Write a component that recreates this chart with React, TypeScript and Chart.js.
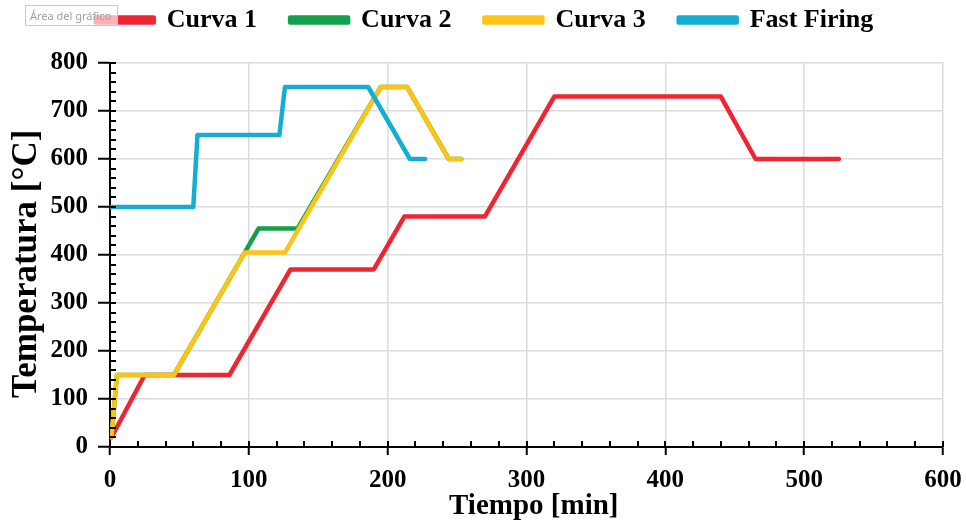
import React, { useEffect, useRef } from 'react';
import { Chart, registerables } from 'chart.js';
Chart.register(...registerables);

const seriesNames = ['Curva 1', 'Curva 2', 'Curva 3', 'Fast Firing'];
const seriesColors = ['#ee2633', '#12a04b', '#fcc414', '#14aed2'];
const curva1Time = [1, 25, 86, 130, 190, 212, 270, 320, 440, 465, 525];
const curva1Temp = [20, 150, 150, 370, 370, 480, 480, 730, 730, 600, 600];
const curva2Time = [1, 5, 46, 97, 107, 135, 195, 214, 244, 253];
const curva2Temp = [20, 150, 150, 405, 455, 455, 750, 750, 600, 600];
const curva3Time = [1, 5, 46, 97, 126, 195, 214, 244, 253];
const curva3Temp = [20, 150, 150, 405, 405, 750, 750, 600, 600];
const fastTime = [0, 60, 63, 122, 126, 186, 216, 227];
const fastTemp = [500, 500, 650, 650, 750, 750, 600, 600];
const xMin = 0, xMax = 600, xStep = 100, xMinorStep = 20;
const yMin = 0, yMax = 800, yStep = 100, yMinorStep = 20;
const xTitle = '  Tiempo [min]';
const yTitle = 'Temperatura [°C]  ';
const overlayText = 'Área del gráfico';

const FONT = "'Liberation Serif', 'Times New Roman', serif";

const toPoints = (xs: number[], ys: number[]) => xs.map((x, i) => ({ x, y: ys[i] }));

const minorTicksPlugin = {
  id: 'minorTicks',
  afterDraw(chart: any) {
    const { ctx, chartArea, scales } = chart;
    const xs = scales.x;
    const ys = scales.y;
    ctx.save();
    ctx.strokeStyle = '#000';
    ctx.lineWidth = 2;
    ctx.beginPath();
    for (let v = xMin; v <= xMax; v += xMinorStep) {
      const px = Math.round(xs.getPixelForValue(v));
      ctx.moveTo(px, chartArea.bottom);
      ctx.lineTo(px, chartArea.bottom - 6);
    }
    for (let v = yMin; v <= yMax; v += yMinorStep) {
      const py = Math.round(ys.getPixelForValue(v));
      ctx.moveTo(chartArea.left, py);
      ctx.lineTo(chartArea.left + 6, py);
    }
    ctx.stroke();
    ctx.restore();
  },
};

export default function App() {
  const ref = useRef<HTMLCanvasElement | null>(null);
  useEffect(() => {
    document.body.style.margin = '0';
    const canvas = ref.current;
    if (!canvas) return;
    const allX = [curva1Time, curva2Time, curva3Time, fastTime];
    const allY = [curva1Temp, curva2Temp, curva3Temp, fastTemp];
    const chart = new Chart(canvas, {
      type: 'line',
      data: {
        datasets: seriesNames.map((name, i) => ({
          label: name,
          data: toPoints(allX[i], allY[i]),
          borderColor: seriesColors[i],
          backgroundColor: seriesColors[i],
          borderWidth: 4.5,
          pointRadius: 0,
          tension: 0,
          fill: false,
          order: seriesNames.length - i,
          borderCapStyle: 'round' as const,
          borderJoinStyle: 'round' as const,
        })),
      },
      options: {
        animation: false,
        responsive: false,
        events: [],
        layout: { padding: { top: -26, right: 0, bottom: 0, left: 3 } },
        plugins: {
          tooltip: { enabled: false },
          title: { display: false },
          subtitle: {
            display: true,
            text: ' ',
            position: 'top',
            weight: 500,
            font: { size: 2, lineHeight: 1 },
            padding: { top: 9, bottom: 9 },
          },
          legend: {
            display: true,
            position: 'top',
            labels: {
              sort: (a: any, b: any) => a.datasetIndex - b.datasetIndex,
              boxWidth: 58,
              boxHeight: 5,
              padding: 33,
              color: '#000',
              font: { family: FONT, size: 26, weight: 'bold' },
            },
          },
        },
        scales: {
          x: {
            type: 'linear',
            min: xMin,
            max: xMax,
            afterFit: (s: any) => {
              s.height = 75;
              s.paddingRight = 23;
            },
            ticks: {
              stepSize: xStep,
              color: '#000',
              padding: 11,
              font: { family: FONT, size: 25, weight: 'bold' },
            },
            grid: {
              color: '#dcdcdc',
              lineWidth: 1.5,
              tickColor: '#000',
              tickLength: 8,
              tickWidth: 2,
            },
            border: { color: '#000', width: 2 },
            title: {
              display: true,
              text: xTitle,
              color: '#000',
              padding: { top: 0, bottom: 0 },
              font: { family: FONT, size: 29, weight: 'bold', lineHeight: 1.1 },
            },
          },
          y: {
            type: 'linear',
            min: yMin,
            max: yMax,
            afterFit: (s: any) => { s.width = 107; },
            ticks: {
              stepSize: yStep,
              color: '#000',
              padding: 10,
              font: { family: FONT, size: 25, weight: 'bold' },
            },
            grid: {
              color: '#dcdcdc',
              lineWidth: 1.5,
              tickColor: '#000',
              tickLength: 12,
              tickWidth: 2,
            },
            border: { color: '#000', width: 2 },
            title: {
              display: true,
              text: yTitle,
              color: '#000',
              padding: { top: 3, bottom: 0 },
              font: { family: FONT, size: 35, weight: 'bold', lineHeight: 1.2 },
            },
          },
        },
      },
      plugins: [minorTicksPlugin],
    } as any);
    return () => chart.destroy();
  }, []);
  return (
    <div style={{ position: 'relative', width: 966, height: 522, background: '#fff' }}>
      <canvas ref={ref} width={966} height={522} />
      <div
        style={{
          position: 'absolute',
          left: 25,
          top: 5,
          width: 93,
          height: 21,
          boxSizing: 'border-box',
          border: '1px solid #c9c9c9',
          background: 'rgba(255,255,255,0.65)',
          color: '#a0a0a0',
          fontFamily: "'Noto Sans', 'DejaVu Sans', sans-serif",
          fontSize: 11,
          lineHeight: '19px',
          paddingLeft: 4,
          whiteSpace: 'nowrap',
          overflow: 'hidden',
        }}
      >
        {overlayText}
      </div>
    </div>
  );
}
